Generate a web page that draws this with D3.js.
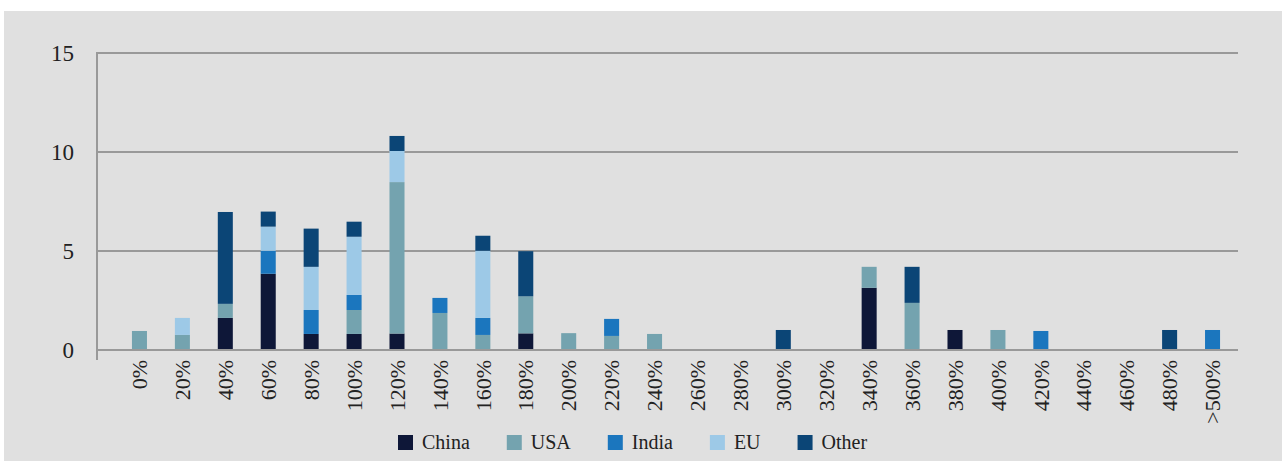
<!DOCTYPE html>
<html>
<head>
<meta charset="utf-8">
<script src="https://cdn.jsdelivr.net/npm/d3@7"></script>
<style>
  body { margin: 0; background: #fff; }
  svg text { font-family: "Liberation Serif", serif; fill: #222; }
</style>
</head>
<body>
<div id="canvas"></div>
<script>
const w = 1282, h = 461;

// data (share of projects, %)
const categories = ["0%", "20%", "40%", "60%", "80%", "100%", "120%", "140%", "160%", "180%",
  "200%", "220%", "240%", "260%", "280%", "300%", "320%", "340%", "360%", "380%",
  "400%", "420%", "440%", "460%", "480%", ">500%"];
const seriesNames = ["China", "USA", "India", "EU", "Other"];
const china = [0, 0, 1.57, 3.8, 0.76, 0.76, 0.78, 0, 0, 0.79, 0, 0, 0, 0, 0, 0, 0, 3.09, 0, 0.96, 0, 0, 0, 0, 0, 0];
const usa   = [0.91, 0.71, 0.71, 0, 0, 1.21, 7.65, 1.82, 0.71, 1.87, 0.8, 0.66, 0.76, 0, 0, 0, 0, 1.06, 2.33, 0, 0.96, 0, 0, 0, 0, 0];
const india = [0, 0, 0, 1.16, 1.21, 0.76, 0, 0.76, 0.86, 0, 0, 0.86, 0, 0, 0, 0, 0, 0, 0, 0, 0, 0.91, 0, 0, 0, 0.96];
const eu    = [0, 0.86, 0, 1.22, 2.18, 2.94, 1.57, 0, 3.39, 0, 0, 0, 0, 0, 0, 0, 0, 0, 0, 0, 0, 0, 0, 0, 0, 0];
const other = [0, 0, 4.64, 0.76, 1.93, 0.76, 0.76, 0, 0.76, 2.28, 0, 0, 0, 0, 0, 0.96, 0, 0, 1.82, 0, 0, 0, 0, 0, 0.96, 0];
const yTicks = [0, 5, 10, 15];
const colors = ["#0e1738", "#74a3af", "#1b76be", "#9dc9e7", "#0b4576"];

const table = categories.map((c, i) => ({
  cat: c, China: china[i], USA: usa[i], India: india[i], EU: eu[i], Other: other[i]
}));

let svg = d3.select("#canvas")
            .append("svg")
                .attr("width", w)
                .attr("height", h)
                .attr("viewBox", [0, 0, w, h]);

svg.append("rect")
    .attr("x", 4).attr("y", 11)
    .attr("width", w - 4).attr("height", h - 11)
    .attr("fill", "#e0e0e0");

const left = 97, right = 1238;

const x = d3.scaleBand()
    .domain(categories)
    .range([118, 1234])
    .paddingInner(0.65)
    .paddingOuter(0.325);

const y = d3.scaleLinear()
    .domain([0, 15])
    .range([350, 53]);

// gridlines
svg.append("g")
  .selectAll("line")
    .data(yTicks)
  .enter().append("line")
    .attr("x1", left).attr("x2", right)
    .attr("y1", d => y(d)).attr("y2", d => y(d))
    .attr("stroke", "#999")
    .attr("stroke-width", 2);

// y axis line
svg.append("line")
    .attr("x1", left).attr("x2", left)
    .attr("y1", y(15) - 1).attr("y2", y(0) + 10)
    .attr("stroke", "#999")
    .attr("stroke-width", 2);

const stack = d3.stack().keys(seriesNames);
const layers = stack(table);

svg.append("g")
  .selectAll("g")
    .data(layers)
  .enter().append("g")
    .attr("fill", (d, i) => colors[i])
  .selectAll("rect")
    .data(d => d)
  .enter().append("rect")
    .attr("x", d => x(d.data.cat))
    .attr("width", x.bandwidth())
    .attr("y", d => y(d[1]))
    .attr("height", d => Math.max(0, y(d[0]) - y(d[1])) )
    .attr("transform", "translate(0,-1)");

// y tick labels
svg.append("g")
  .selectAll("text")
    .data(yTicks)
  .enter().append("text")
    .attr("x", 74)
    .attr("y", d => y(d))
    .attr("dy", "0.35em")
    .attr("text-anchor", "end")
    .style("font-size", "23px")
    .text(d => d);

// x tick labels, rotated
svg.append("g")
  .selectAll("text")
    .data(categories)
  .enter().append("text")
    .attr("transform", d => "translate(" + (x(d) + x.bandwidth() / 2) + ",360) rotate(-90)")
    .attr("dy", "0.35em")
    .attr("text-anchor", "end")
    .style("font-size", "22px")
    .text(d => d);

// legend
const legend = svg.append("g");
let lx = 398;
seriesNames.forEach((name, i) => {
  legend.append("rect")
      .attr("x", lx).attr("y", 435)
      .attr("width", 15).attr("height", 15)
      .attr("fill", colors[i]);
  const t = legend.append("text")
      .attr("x", lx + 24).attr("y", 449)
      .style("font-size", "20px")
      .text(name);
  lx += 24 + t.node().getComputedTextLength() + 37;
});
</script>
</body>
</html>
